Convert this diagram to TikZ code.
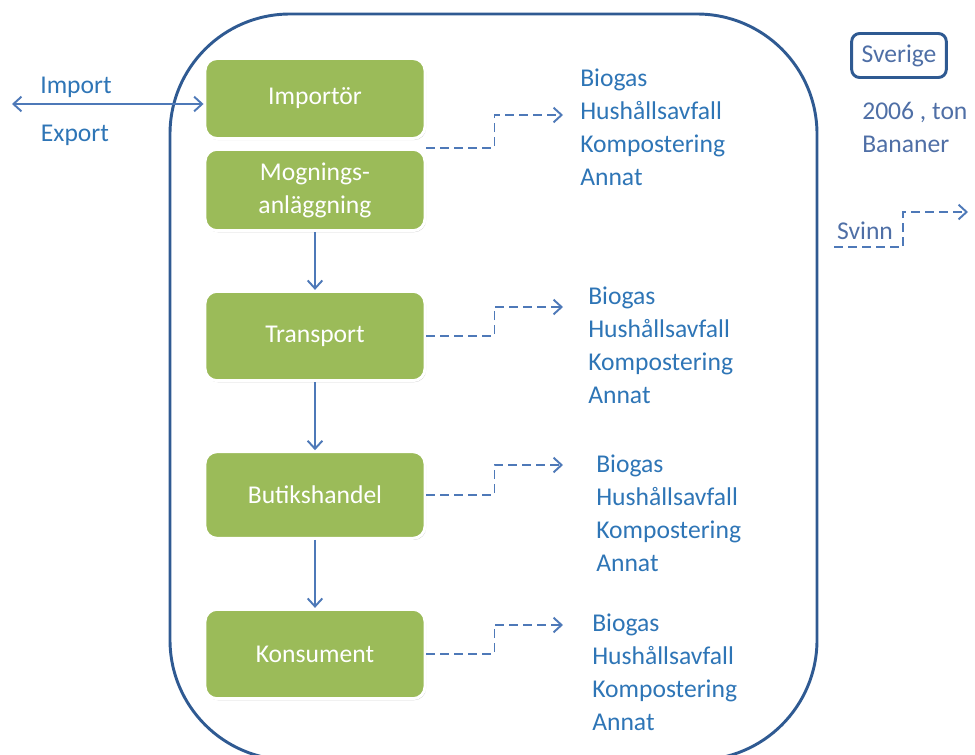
\documentclass[tikz,border=0pt]{standalone}
\usepackage{fontspec}
\setmainfont{Carlito}
\usetikzlibrary{arrows.meta,shadows,calc}
\definecolor{stagegreen}{HTML}{9BBB59}
\definecolor{rimblue}{HTML}{2F5A92}
\definecolor{flowblue}{HTML}{4E79B8}
\definecolor{listblue}{HTML}{2E75B6}
\definecolor{keyblue}{HTML}{4F6FA6}
\tikzset{
    stage/.style = {draw=white, line width=2.2pt, fill=stagegreen,
        rounded corners=9pt, minimum width=165pt, text=white, align=center,
        drop shadow={shadow xshift=0.8pt, shadow yshift=-1.2pt, opacity=0.35}},
    flow/.style = {draw=flowblue, line width=1.45pt, -{Straight Barb[length=6pt,width=11pt]}},
    waste/.style = {flow, dash pattern=on 6.5pt off 4pt},
    wastelist/.style = {text=listblue, align=left, anchor=base west, inner sep=0pt},
    keytext/.style = {text=keyblue, align=left, inner sep=0pt}
}
\begin{document}
\begin{tikzpicture}[x=0.75pt, y=-0.75pt, font=\fontsize{19.2}{24.75}\selectfont]
    \useasboundingbox (0,0) rectangle (975,754);
    \clip (0,0) rectangle (975,754);
    % system border
    \draw [rimblue, line width=2.2pt, rounded corners=90pt] (170,14) rectangle (817,760);
    % chain of stages
    \node [stage, minimum height=60pt] (importor) at (315,98.5) {Importör};
    \node [stage, minimum height=61pt] (mogning) at (315,190) {Mognings-\\anläggning};
    \node [stage, minimum height=67pt] (transport) at (315,336) {Transport};
    \node [stage, minimum height=65pt] (butik) at (315,495) {Butikshandel};
    \node [stage, minimum height=67pt] (konsument) at (315,654) {Konsument};
    \draw [flow] (mogning) -- (transport);
    \draw [flow] (transport) -- (butik);
    \draw [flow] (butik) -- (konsument);
    % import / export
    \coordinate (world) at (12,104);
    \draw [flow, {Straight Barb[length=6pt,width=11pt]}-{Straight Barb[length=6pt,width=11pt]}] (world) -- (importor.west |- world);
    \node [text=listblue] (import) at (76,87) {Import};
    \node [text=listblue] (export) at (75,135) {Export};
    % waste streams
    \node [wastelist] (listA) at (580,185) {Biogas\\Hushållsavfall\\Kompostering\\Annat};
    \node [wastelist] (listB) at (588,403) {Biogas\\Hushållsavfall\\Kompostering\\Annat};
    \node [wastelist] (listC) at (596,571) {Biogas\\Hushållsavfall\\Kompostering\\Annat};
    \node [wastelist] (listD) at (592,730) {Biogas\\Hushållsavfall\\Kompostering\\Annat};
    \coordinate (outA) at (importor.south east |- 0,148);
    \coordinate (inA) at (563,115);
    \coordinate (inB) at (563,307);
    \coordinate (inC) at (563,465);
    \coordinate (inD) at (563,625);
    \draw [waste] (outA) -- ++(68,0) |- (inA);
    \draw [waste] (transport.east) -- ++(68,0) |- (inB);
    \draw [waste] (butik.east) -- ++(68,0) |- (inC);
    \draw [waste] (konsument.east) -- ++(68,0) |- (inD);
    % legend
    \node [draw=rimblue, line width=2.2pt, rounded corners=6pt, text=keyblue,
        minimum width=71pt, minimum height=33pt] (sverige) at (899,55.5) {Sverige};
    \node [keytext, anchor=base west] (year) at (862,152) {2006 , ton\\Bananer};
    \node [keytext] (svinn) at (865,231) {Svinn};
    \coordinate (svinnA) at (834,247);
    \coordinate (svinnB) at (968,212);
    \draw [waste] (svinnA) -- ++(69,0) |- (svinnB);
\end{tikzpicture}
\end{document}
